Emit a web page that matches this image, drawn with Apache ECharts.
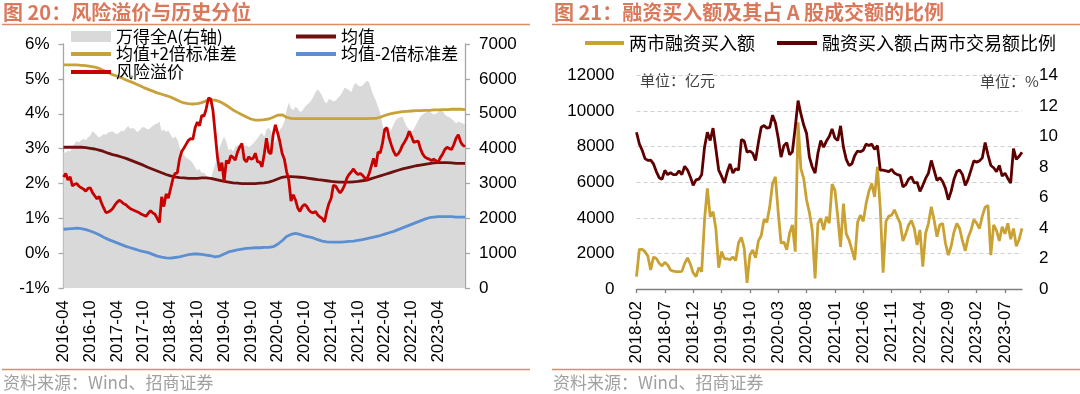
<!DOCTYPE html>
<html><head><meta charset="utf-8">
<script src="https://cdn.jsdelivr.net/npm/echarts@6/dist/echarts.min.js"></script>
<style>html,body{margin:0;padding:0;background:#fff}#c{width:1080px;height:394px}</style>
</head><body><div id="c"></div>
<script>
// ---------- Figure 20 (half-month points from 2016-04 to 2023-10) ----------
const leftTickLabels = ['2016-04','2016-10','2017-04','2017-10','2018-04','2018-10','2019-04','2019-10','2020-04','2020-10','2021-04','2021-10','2022-04','2022-10','2023-04'];
const riskPremium = [
2.19,2.29,2.10,2.19,1.93,1.98,2.00,1.92,1.88,1.84,
1.78,1.86,1.88,1.74,1.65,1.56,1.63,1.45,1.30,1.17,
1.18,1.22,1.28,1.38,1.46,1.52,1.48,1.42,1.39,1.33,
1.28,1.25,1.22,1.19,1.16,1.12,1.09,1.06,1.15,1.22,
1.16,1.12,1.00,0.88,1.62,1.34,1.70,1.58,1.85,2.12,
2.29,2.30,2.70,2.92,3.02,3.13,3.24,3.29,3.27,3.60,
3.76,3.66,3.96,3.93,4.15,4.45,4.42,4.10,3.44,2.77,
2.36,2.60,2.05,2.66,2.58,2.80,2.75,2.67,2.90,3.05,
3.15,2.70,2.62,2.77,2.70,2.72,2.87,2.62,2.62,2.48,
2.85,3.30,2.90,2.85,3.40,3.68,3.45,3.20,2.87,2.70,
2.35,2.10,1.50,1.68,1.53,1.30,1.20,1.34,1.40,1.35,
1.24,1.18,1.16,1.20,1.10,1.04,1.00,0.90,1.20,1.43,
1.58,1.95,1.93,1.82,1.73,1.82,1.95,2.15,2.26,2.33,
2.42,2.32,2.26,2.29,2.24,2.16,2.12,2.28,2.50,2.72,
2.48,2.90,2.88,3.15,3.55,3.60,3.30,3.10,2.92,2.80,
2.85,2.95,3.10,3.20,3.32,3.50,3.35,3.18,3.20,3.22,
3.00,2.85,2.76,2.72,2.70,2.66,2.70,2.65,2.62,2.75,
2.85,2.98,3.04,3.00,2.98,3.12,3.30,3.40,3.20,3.10,
3.06];
const windAllA = [
3.90,3.88,3.95,3.92,4.05,4.15,4.22,4.18,4.25,4.28,
4.24,4.32,4.38,4.50,4.45,4.38,4.32,4.36,4.42,4.40,
4.46,4.48,4.50,4.44,4.42,4.46,4.52,4.50,4.58,4.65,
4.56,4.60,4.55,4.48,4.52,4.60,4.62,4.58,4.55,4.60,
4.65,4.70,4.72,4.78,4.50,4.55,4.48,4.52,4.40,4.30,
4.35,4.28,4.05,3.90,3.82,3.75,3.70,3.65,3.58,3.45,
3.38,3.42,3.30,3.32,3.22,3.15,3.12,3.35,3.55,3.80,
4.05,4.20,4.35,4.20,3.95,4.00,3.92,4.05,4.10,4.05,
3.98,4.08,4.10,4.05,4.08,4.15,4.22,4.30,4.40,4.45,
4.35,4.55,4.60,4.50,4.15,4.20,4.35,4.55,4.62,4.78,
5.10,5.32,5.15,5.10,5.20,5.15,5.05,5.08,5.18,5.25,
5.30,5.38,5.48,5.62,5.70,5.62,5.52,5.35,5.30,5.42,
5.40,5.35,5.38,5.45,5.52,5.62,5.75,5.72,5.68,5.62,
5.80,5.88,5.82,5.78,5.80,5.88,5.95,5.90,5.70,5.52,
5.38,5.20,5.02,4.70,4.40,4.38,4.48,4.55,4.70,4.82,
4.88,4.90,4.92,4.75,4.62,4.55,4.48,4.55,4.68,4.80,
4.92,4.98,5.02,5.05,5.08,5.02,4.98,5.00,5.05,5.10,
5.08,4.98,4.92,4.90,4.85,4.80,4.72,4.78,4.75,4.72,
4.70]; // thousands of points
// monthly values 2016-04 .. 2023-10
const meanPlus2 = [
5.40,5.40,5.40,5.40,5.39,5.38,5.36,5.34,5.30,5.24,
5.18,5.12,5.08,5.03,4.97,4.92,4.87,4.81,4.75,4.70,
4.65,4.60,4.56,4.52,4.48,4.42,4.36,4.31,4.29,4.28,
4.29,4.32,4.37,4.40,4.39,4.35,4.28,4.20,4.11,4.04,
3.97,3.91,3.85,3.82,3.82,3.83,3.85,3.90,3.96,3.97,
3.90,3.87,3.86,3.86,3.86,3.86,3.86,3.86,3.86,3.86,
3.86,3.86,3.86,3.86,3.86,3.86,3.86,3.86,3.86,3.87,
3.87,3.90,3.95,3.99,4.02,4.04,4.06,4.07,4.08,4.09,
4.09,4.10,4.10,4.11,4.11,4.12,4.12,4.13,4.13,4.13,
4.12];
const meanLine = [
3.04,3.04,3.04,3.04,3.04,3.03,3.01,2.99,2.96,2.92,
2.87,2.83,2.80,2.76,2.72,2.67,2.62,2.57,2.52,2.46,
2.41,2.36,2.31,2.26,2.22,2.19,2.17,2.16,2.15,2.15,
2.15,2.16,2.16,2.15,2.12,2.09,2.06,2.04,2.02,2.01,
2.00,2.00,2.00,2.00,2.01,2.02,2.04,2.08,2.13,2.18,
2.20,2.20,2.19,2.18,2.17,2.15,2.13,2.11,2.10,2.08,
2.06,2.05,2.04,2.04,2.04,2.05,2.06,2.08,2.10,2.14,
2.18,2.22,2.26,2.30,2.34,2.38,2.42,2.45,2.48,2.51,
2.53,2.55,2.57,2.59,2.60,2.60,2.60,2.59,2.58,2.58,
2.58];
const meanMinus2 = [
0.69,0.70,0.71,0.72,0.71,0.68,0.64,0.59,0.53,0.46,
0.40,0.35,0.30,0.25,0.20,0.16,0.12,0.08,0.05,0.02,
-0.03,-0.08,-0.11,-0.13,-0.14,-0.12,-0.10,-0.07,-0.04,-0.02,
-0.02,-0.03,-0.05,-0.07,-0.10,-0.08,-0.02,0.04,0.07,0.10,
0.12,0.14,0.15,0.16,0.16,0.17,0.17,0.19,0.26,0.36,
0.48,0.54,0.57,0.54,0.50,0.47,0.44,0.39,0.35,0.33,
0.32,0.32,0.32,0.33,0.34,0.35,0.37,0.39,0.42,0.45,
0.48,0.51,0.55,0.59,0.63,0.68,0.73,0.78,0.83,0.88,
0.93,0.98,1.02,1.04,1.05,1.05,1.05,1.05,1.04,1.04,
1.04];

// ---------- Figure 21 (half-month points from 2018-02 to 2023-10) ----------
const rightTickLabels = ['2018-02','2018-07','2018-12','2019-05','2019-10','2020-03','2020-08','2021-01','2021-06','2021-11','2022-04','2022-09','2023-02','2023-07'];
const marginBuy = [
690,2230,2230,2100,1850,1070,1800,1720,1450,1300,
1500,1350,1070,1000,970,980,990,1440,1750,1400,
900,700,1200,970,3880,5660,4060,4340,3400,1200,
2100,1700,1700,1650,1800,1600,2600,2900,2300,350,
1900,2190,1750,2700,3000,3900,3750,4620,5930,6300,
4300,2570,2640,2200,3130,3600,2100,9370,6750,6200,
5000,4300,3300,600,3690,3970,3320,4060,3700,5900,
5560,4060,2370,4800,3100,2750,2200,1630,3750,4150,
3800,4800,5500,5930,5180,6870,4500,920,3800,4100,
4150,4450,4060,3700,2700,3100,3600,3850,3400,2470,
3320,1260,3130,3690,4620,3880,2940,3600,3690,2570,
1900,2400,3200,3690,3400,2700,2150,2900,3300,3900,
3700,3400,4100,4600,4700,1900,3600,3300,2700,3500,
3100,3690,2800,3400,2400,2800,
3410];
const marginRatio = [
10.28,9.52,9.10,8.55,8.43,8.45,8.20,7.70,7.30,7.20,
7.78,7.50,7.62,7.50,7.50,7.75,7.50,8.05,7.80,7.35,
6.80,7.15,7.20,7.50,9.30,10.28,9.74,10.55,9.20,7.80,
7.40,6.95,7.67,8.20,7.60,7.89,7.80,9.80,9.70,8.97,
9.05,8.90,8.43,9.60,10.61,10.72,10.55,10.60,11.40,10.90,
9.90,8.65,9.40,9.60,8.80,9.00,10.60,12.35,11.48,10.75,
10.20,8.65,8.00,7.60,8.90,9.74,9.30,9.70,10.00,10.50,
9.90,9.74,10.70,9.30,8.50,8.10,8.21,8.75,9.05,9.00,
9.10,9.50,9.41,9.50,9.15,9.40,7.80,7.80,7.75,7.70,
7.85,7.60,7.50,7.45,6.70,6.85,7.20,7.35,6.95,7.00,
6.40,6.80,7.25,7.60,8.43,7.78,7.12,7.30,7.05,6.60,
5.85,6.40,7.20,7.70,7.80,7.50,6.80,7.20,7.80,8.40,
8.32,8.40,8.60,9.60,8.80,8.10,7.95,7.70,8.10,7.40,
7.60,7.25,6.95,9.20,8.50,8.70,
8.97];

function halfMonthCats(y, m, count) {
  const out = [];
  for (let i = 0; i < count; i++) {
    out.push(y + '-' + String(m).padStart(2, '0') + (i % 2 === 0 ? '-01' : '-16'));
    if (i % 2 === 1) { m++; if (m > 12) { m = 1; y++; } }
  }
  return out;
}
const leftCats = halfMonthCats(2016, 4, riskPremium.length);
const rightCats = halfMonthCats(2018, 2, marginBuy.length);
const monthly = arr => arr.map((v, i) => [i * 2, v]);

const FONT = "'Liberation Sans','Noto Sans CJK SC',sans-serif";
const CJK = "'Noto Sans CJK SC','Liberation Sans',sans-serif";
const TXT = '#000';
const plain = v => String(v);
const LW = 2.8;

const chart = echarts.init(document.getElementById('c'), null, {renderer: 'canvas'});

const legendItem = (name, left, top, w, h, size) => ({
  data: [name], left, top, orient: 'horizontal', padding: 0, itemGap: 0,
  itemWidth: w, itemHeight: h, icon: 'rect', selectedMode: false,
  textStyle: {fontSize: size, fontFamily: CJK, color: TXT, lineHeight: size + 1}
});

const option = {
  animation: false,
  backgroundColor: '#fff',
  grid: [
    {left: 63.5, top: 44, width: 401.5, height: 244.2, containLabel: false, outerBoundsMode: 'none'},
    {left: 636.5, top: 75.5, width: 385.5, height: 213.5, containLabel: false, outerBoundsMode: 'none'}
  ],
  legend: [
    legendItem('万得全A(右轴)', 71, 27.5, 40, 11, 17),
    legendItem('均值', 296, 27.5, 40, 4, 17),
    legendItem('均值+2倍标准差', 71, 45, 40, 4, 17),
    legendItem('均值-2倍标准差', 296, 45, 40, 4, 17),
    legendItem('风险溢价', 71, 63, 40, 4, 17),
    legendItem('两市融资买入额', 585, 33.5, 39, 4, 18),
    legendItem('融资买入额占两市交易额比例', 777, 33.5, 40, 4, 18)
  ],
  xAxis: [
    {gridIndex: 0, type: 'category', data: leftCats, boundaryGap: false, position: 'bottom',
     axisLine: {show: false, onZero: false}, axisTick: {show: false}, splitLine: {show: false},
     axisLabel: {interval: (i) => i % 12 === 0 && i < 180, rotate: 90, margin: 12, fontSize: 17,
       fontFamily: FONT, color: TXT, formatter: v => v.slice(0, 7)}},
    {gridIndex: 0, type: 'category', data: leftCats, boundaryGap: false, position: 'bottom',
     axisLine: {show: true, onZero: true, onZeroAxisIndex: 0, lineStyle: {color: '#A6A6A6', width: 1.3}},
     axisTick: {show: true, interval: (i) => i % 12 === 0 && i > 0 && i < 180, length: 5, lineStyle: {color: '#A6A6A6', width: 1.3}},
     axisLabel: {show: false}, splitLine: {show: false}},
    {gridIndex: 1, type: 'category', data: rightCats, boundaryGap: false, position: 'bottom',
     axisLine: {show: true, onZero: false, lineStyle: {color: '#7F7F7F', width: 1.3}},
     axisTick: {show: true, interval: (i) => i % 10 === 0, length: 4, lineStyle: {color: '#7F7F7F', width: 1.3}},
     splitLine: {show: false},
     axisLabel: {interval: (i) => i % 10 === 0, rotate: 90, margin: 12, fontSize: 17,
       fontFamily: FONT, color: TXT, formatter: v => v.slice(0, 7)}}
  ],
  yAxis: [
    {gridIndex: 0, type: 'value', min: -1, max: 6, interval: 1, position: 'left',
     axisLine: {show: true, onZero: false, lineStyle: {color: '#A6A6A6', width: 1.3}},
     axisTick: {show: true, length: 5, lineStyle: {color: '#A6A6A6', width: 1.3}},
     axisLabel: {formatter: v => v + '%', fontSize: 17, fontFamily: FONT, color: TXT, margin: 14},
     splitLine: {show: false}},
    {gridIndex: 0, type: 'value', min: 0, max: 7000, interval: 1000, position: 'right',
     axisLine: {show: true, onZero: false, lineStyle: {color: '#A6A6A6', width: 1.3}},
     axisTick: {show: true, length: 5, lineStyle: {color: '#A6A6A6', width: 1.3}},
     axisLabel: {formatter: plain, fontSize: 17, fontFamily: FONT, color: TXT, margin: 14},
     splitLine: {show: false}},
    {gridIndex: 1, type: 'value', min: 0, max: 12000, interval: 2000, position: 'left',
     axisLine: {show: false}, axisTick: {show: false},
     axisLabel: {formatter: plain, fontSize: 17, fontFamily: FONT, color: TXT, margin: 22},
     splitLine: {show: true, lineStyle: {type: [4, 3], color: '#D0D0D0', width: 1}}},
    {gridIndex: 1, type: 'value', min: 0, max: 14, interval: 2, position: 'right',
     axisLine: {show: false}, axisTick: {show: false},
     axisLabel: {formatter: plain, fontSize: 17, fontFamily: FONT, color: TXT, margin: 17},
     splitLine: {show: false}}
  ],
  series: [
    {name: '万得全A(右轴)', type: 'line', xAxisIndex: 0, yAxisIndex: 1, data: windAllA.map(v => Math.round(v * 1000)),
     symbol: 'none', color: '#D9D9D9', itemStyle: {color: '#D9D9D9'}, lineStyle: {width: 0, color: '#D9D9D9'},
     areaStyle: {color: '#D9D9D9', opacity: 1}, z: 1},
    {name: '均值', type: 'line', xAxisIndex: 0, yAxisIndex: 0, data: monthly(meanLine),
     symbol: 'none', color: '#6E1010', itemStyle: {color: '#6E1010'}, lineStyle: {width: LW, color: '#6E1010'}, z: 3},
    {name: '均值+2倍标准差', type: 'line', xAxisIndex: 0, yAxisIndex: 0, data: monthly(meanPlus2),
     symbol: 'none', color: '#C9A13B', itemStyle: {color: '#C9A13B'}, lineStyle: {width: LW, color: '#C9A13B'}, z: 3},
    {name: '均值-2倍标准差', type: 'line', xAxisIndex: 0, yAxisIndex: 0, data: monthly(meanMinus2),
     symbol: 'none', color: '#5B8FD2', itemStyle: {color: '#5B8FD2'}, lineStyle: {width: LW, color: '#5B8FD2'}, z: 3},
    {name: '风险溢价', type: 'line', xAxisIndex: 0, yAxisIndex: 0, data: riskPremium,
     symbol: 'none', color: '#C80000', itemStyle: {color: '#C80000'}, lineStyle: {width: LW, color: '#C80000'}, z: 4},
    {name: '两市融资买入额', type: 'line', xAxisIndex: 2, yAxisIndex: 2, data: marginBuy,
     symbol: 'none', color: '#C9A233', itemStyle: {color: '#C9A233'}, lineStyle: {width: LW, color: '#C9A233'}, z: 3},
    {name: '融资买入额占两市交易额比例', type: 'line', xAxisIndex: 2, yAxisIndex: 3, data: marginRatio,
     symbol: 'none', color: '#5E0000', itemStyle: {color: '#5E0000'}, lineStyle: {width: LW, color: '#5E0000'}, z: 4}
  ],
  graphic: [
    {type: 'text', left: 3, top: 2, style: {text: '图 20：风险溢价与历史分位', fill: '#D9785A', font: "bold 20px 'Noto Sans CJK SC', sans-serif"}},
    {type: 'text', left: 554, top: 2, style: {text: '图 21：融资买入额及其占 A 股成交额的比例', fill: '#D9785A', font: "bold 20px 'Noto Sans CJK SC', sans-serif"}},
    {type: 'line', shape: {x1: 2, y1: 24.5, x2: 530, y2: 24.5}, style: {stroke: '#E08A6A', lineWidth: 1.5}},
    {type: 'line', shape: {x1: 552, y1: 24.5, x2: 1080, y2: 24.5}, style: {stroke: '#E08A6A', lineWidth: 1.5}},
    {type: 'line', shape: {x1: 2, y1: 369.5, x2: 530, y2: 369.5}, style: {stroke: '#E08A6A', lineWidth: 1.5}},
    {type: 'line', shape: {x1: 552, y1: 369.5, x2: 1080, y2: 369.5}, style: {stroke: '#E08A6A', lineWidth: 1.5}},
    {type: 'text', left: 3, top: 374, style: {text: '资料来源：Wind、招商证券', fill: '#A0A0A0', font: "17px 'Noto Sans CJK SC', sans-serif"}},
    {type: 'text', left: 553, top: 374, style: {text: '资料来源：Wind、招商证券', fill: '#A0A0A0', font: "17px 'Noto Sans CJK SC', sans-serif"}},
    {type: 'text', left: 640, top: 73, style: {text: '单位：亿元', fill: '#404040', font: "15px 'Noto Sans CJK SC', sans-serif"}},
    {type: 'text', left: 980, top: 74, style: {text: '单位：%', fill: '#404040', font: "15px 'Noto Sans CJK SC', sans-serif"}}
  ]
};
chart.setOption(option);
</script>
</body></html>
